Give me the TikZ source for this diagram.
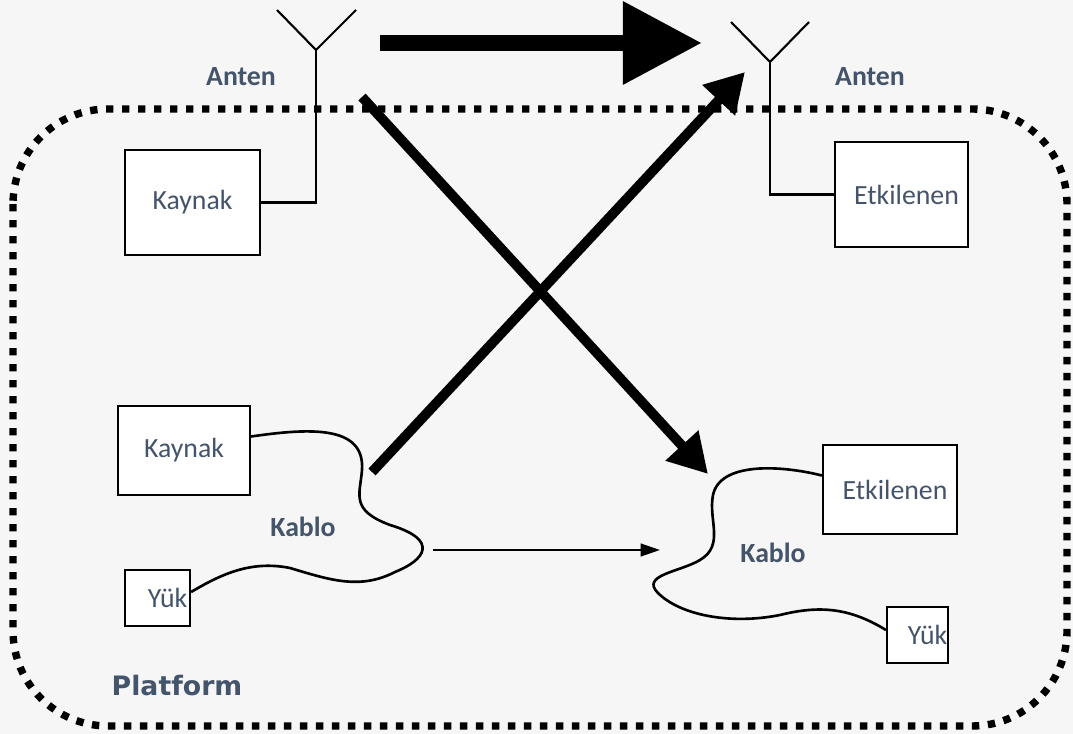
\documentclass[tikz,border=0pt]{standalone}
\usepackage{fontspec}
\setmainfont{Carlito}
\newfontfamily\platfont{DejaVu Sans}
\usetikzlibrary{arrows.meta, calc}

\definecolor{textblue}{RGB}{68,84,106}
\definecolor{bgcol}{RGB}{246,246,247}

\tikzset{
    box/.style={draw, line width=0.6pt, fill=white, inner sep=0pt, text=textblue,
        font=\fontsize{7.9}{9}\selectfont},
    tag/.style={text=textblue, font=\fontsize{7.9}{9}\selectfont\bfseries},
    wire/.style={line width=0.6pt},
    cable/.style={line width=0.75pt},
    platline/.style={line width=2.1pt, dash pattern=on 2.1pt off 2.45pt, rounded corners=0.95cm},
    bigarrow/.style={line width=4.6pt, -{Triangle[length=22.5pt, width=22.5pt]}},
    crossarrow/.style={line width=2.8pt, -{Triangle[length=11pt, width=12pt]}},
    thinarrow/.style={line width=0.6pt, -{Triangle[length=5.5pt, width=3.6pt]}}
}

\begin{document}
\begin{tikzpicture}[x=0.01cm, y=-0.01cm]
    % Background
    \fill[bgcol] (0,0) rectangle (1073,734);
    \useasboundingbox (0,0) rectangle (1073,734);

    % Platform border
    \draw[platline] (13,109) rectangle (1067,726);
    \node[text=textblue, font=\platfont\fontsize{7.6}{9}\selectfont\bfseries] (plat) at (177,686) {Platform};

    % Draw nodes
    \node[box, minimum width=1.35cm, minimum height=1.05cm] (kT) at (192.5,202.5) {Kaynak};
    \node[box, minimum width=1.33cm, minimum height=1.05cm] (eT) at (901.5,194.5) {\hspace*{0.1cm}Etkilenen};
    \node[box, minimum width=1.32cm, minimum height=0.89cm] (kB) at (184,450.5) {Kaynak};
    \node[box, minimum width=0.65cm, minimum height=0.56cm] (yB) at (157.5,598) {\hspace*{0.2cm}Yük};
    \node[box, minimum width=1.34cm, minimum height=0.89cm] (eB) at (890,489.5) {\hspace*{0.1cm}Etkilenen};
    \node[box, minimum width=0.61cm, minimum height=0.56cm] (yE) at (917.5,635) {\hspace*{0.2cm}Yük};

    % Antennas
    \coordinate (antL) at (316,50);
    \coordinate (antR) at (770,62);
    \draw[wire] (kT.east) -| (antL);
    \draw[wire] (antL) -- ++(-39,-40) (antL) -- ++(40,-40);
    \draw[wire] (eT.west) -| (antR);
    \draw[wire] (antR) -- ++(-39,-40) (antR) -- ++(39,-40);

    % Cables
    \draw[cable] ($(kB.east)+(0,-14)$) .. controls (310,428) and (365,425) .. (362,470)
        .. controls (360,495) and (350,510) .. (390,525)
        .. controls (440,540) and (425,560) .. (395,572)
        .. controls (360,590) and (330,580) .. (290,568)
        .. controls (250,560) and (220,575) .. ($(yB.east)+(0,-6)$);
    \draw[cable] ($(eB.west)+(0,-14)$) .. controls (780,465) and (720,462) .. (713,495)
        .. controls (708,520) and (725,545) .. (700,560)
        .. controls (680,572) and (640,575) .. (658,593)
        .. controls (680,615) and (730,625) .. (780,615)
        .. controls (820,605) and (850,608) .. ($(yE.west)+(0,-5)$);

    % Labels
    \node[tag] (antenL) at (241,77) {Anten};
    \node[tag] (antenR) at (870,77) {Anten};
    \node[tag] (kabloL) at (303,527) {Kablo};
    \node[tag] (kabloR) at (773,553) {Kablo};

    % Draw connections
    \coordinate (radS) at (380,43);
    \coordinate (radE) at (702,43);
    \coordinate (c1S) at (362,97);
    \coordinate (c1E) at (708,474);
    \coordinate (c2S) at (372,472);
    \coordinate (c2E) at (745,72);
    \coordinate (condS) at (433,550);
    \coordinate (condE) at (660,550);
    \draw[bigarrow] (radS) -- (radE);
    \draw[crossarrow] (c1S) -- (c1E);
    \draw[crossarrow] (c2S) -- (c2E);
    \draw[thinarrow] (condS) -- (condE);
\end{tikzpicture}
\end{document}
